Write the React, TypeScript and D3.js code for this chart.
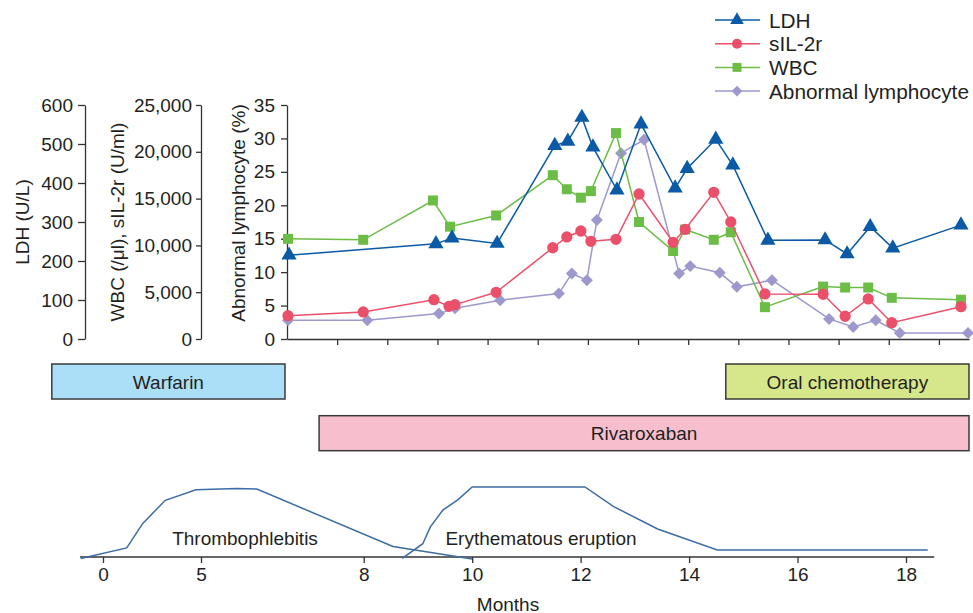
import React, { useRef, useEffect } from 'react'
import * as d3 from 'd3'

// upper panel x = visit index units (one unlabeled tick per unit)
const ldhT = [0.04, 2.97, 3.29, 4.19, 5.34, 5.6, 5.88, 6.1, 6.58, 7.06, 7.74, 7.98, 8.55, 8.89, 9.59, 10.73, 11.17, 11.63, 12.08, 13.44]
const ldhVal = [215, 244, 259, 245, 496, 507, 568, 492, 382, 551, 387, 437, 512, 446, 253, 254, 218, 288, 233, 292]

const sil2rT = [0.02, 1.52, 2.93, 3.23, 3.35, 4.17, 5.3, 5.58, 5.86, 6.06, 6.56, 7.02, 7.7, 7.94, 8.51, 8.85, 9.53, 10.69, 11.13, 11.59, 12.06, 13.44]
const sil2rVal = [2490, 2890, 4200, 3490, 3670, 4990, 9750, 10900, 11540, 10440, 10650, 15490, 10330, 11720, 15670, 12500, 4810, 4780, 2430, 4280, 1740, 3450]

const wbcT = [0.02, 1.52, 2.91, 3.25, 4.17, 5.3, 5.58, 5.86, 6.06, 6.56, 7.02, 7.7, 7.94, 8.51, 8.85, 9.53, 10.69, 11.13, 11.59, 12.06, 13.44]
const wbcVal = [10700, 10600, 14800, 12000, 13200, 17500, 16000, 15100, 15800, 22000, 12500, 9400, 11700, 10600, 11400, 3400, 5600, 5500, 5500, 4400, 4200]

const lymT = [0.02, 1.6, 3.03, 3.35, 4.25, 5.42, 5.68, 5.98, 6.18, 6.66, 7.12, 7.82, 8.04, 8.63, 8.97, 9.67, 10.81, 11.29, 11.74, 12.22, 13.58]
const lymVal = [2.8, 2.8, 3.8, 4.6, 5.8, 6.8, 9.8, 8.8, 17.8, 27.8, 29.8, 9.8, 10.9, 9.9, 7.8, 8.8, 3.0, 1.8, 2.8, 0.9, 0.9]

const ldhTicks = [0, 100, 200, 300, 400, 500, 600]
const wbcTicks = [0, 5000, 10000, 15000, 20000, 25000]
const lymTicks = [0, 5, 10, 15, 20, 25, 30, 35]

// treatments (same visit units as upper panel)
const drugNames = ['Warfarin', 'Rivaroxaban', 'Oral chemotherapy']
const drugStart = [-4.69, 0.64, 8.75]
const drugEnd = [-0.04, 13.6, 13.6]
const drugLane = [0, 1, 0]

// symptom course, x in months, y = relative severity
const thromboM = [-1.14, 1.21, 2.03, 3.18, 4.74, 5.66, 6.03, 8.54, 10.0]
const thromboS = [-0.02, 0.13, 0.48, 0.81, 0.96, 0.98, 0.97, 0.15, -0.03]
const eruptionM = [8.71, 9.09, 9.23, 9.46, 9.74, 10.0, 12.08, 12.61, 13.42, 14.52, 18.4]
const eruptionS = [-0.02, 0.19, 0.43, 0.67, 0.82, 1.0, 1.0, 0.72, 0.4, 0.1, 0.1]
const monthTicks = [0, 5, 8, 10, 12, 14, 16, 18]

const FONT = "'Liberation Sans', Arial, Helvetica, sans-serif"
const INK = '#231f20'

const Chart = () => {
  const svgRef = useRef<SVGSVGElement>(null)

  useEffect(() => {
    const svg = d3.select(svgRef.current)
    svg.selectAll('*').remove()

    const yTop = 105, yBot = 339
    const xTop = d3.scaleLinear().domain([0, 13.6]).range([287, 969])
    const yLdh = d3.scaleLinear().domain([0, 600]).range([yBot, yTop])
    const yWbc = d3.scaleLinear().domain([0, 25000]).range([yBot, yTop])
    const yLym = d3.scaleLinear().domain([0, 35]).range([yBot, yTop])

    const styleAxis = (g) => {
      g.attr('font-family', FONT).attr('font-size', 19)
      g.selectAll('path, line').attr('stroke', '#333').attr('stroke-width', 1.3)
      g.selectAll('text').attr('fill', INK)
    }

    // left axes
    svg.append('g').attr('transform', 'translate(85,0)')
      .call(d3.axisLeft(yLdh).tickValues(ldhTicks).tickSize(7).tickPadding(5).tickSizeOuter(0))
      .call(styleAxis)
    svg.append('g').attr('transform', 'translate(201,0)')
      .call(d3.axisLeft(yWbc).tickValues(wbcTicks).tickFormat(d3.format(',')).tickSize(5).tickPadding(4).tickSizeOuter(0))
      .call(styleAxis)
    svg.append('g').attr('transform', 'translate(287,0)')
      .call(d3.axisLeft(yLym).tickValues(lymTicks).tickSize(6).tickPadding(6).tickSizeOuter(0))
      .call(styleAxis)
    svg.append('g').attr('transform', `translate(0,${yBot})`)
      .call(d3.axisBottom(xTop).tickValues(d3.range(1, 14)).tickFormat(() => '').tickSize(6).tickSizeOuter(0))
      .call(styleAxis)

    const axisTitle = (x, y, txt) => svg.append('text')
      .attr('transform', `translate(${x},${y}) rotate(-90)`)
      .attr('text-anchor', 'middle').attr('dominant-baseline', 'central')
      .attr('font-family', FONT).attr('font-size', 19).attr('fill', INK)
      .text(txt)
    axisTitle(22, 222, 'LDH (U/L)')
    axisTitle(117, 222, 'WBC (/\u03bcl), sIL-2r (U/ml)')
    axisTitle(238, 213, 'Abnormal lymphocyte (%)')

    const series = [
      { name: 'LDH', t: ldhT, v: ldhVal, y: yLdh, color: '#0a5aa6', sym: d3.symbolTriangle, size: 100, rot: 0 },
      { name: 'sIL-2r', t: sil2rT, v: sil2rVal, y: yWbc, color: '#eb506b', sym: d3.symbolCircle, size: 100, rot: 0 },
      { name: 'WBC', t: wbcT, v: wbcVal, y: yWbc, color: '#6bbd46', sym: d3.symbolSquare, size: 100, rot: 0 },
      { name: 'Abnormal lymphocyte', t: lymT, v: lymVal, y: yLym, color: '#9d99cd', sym: d3.symbolSquare, size: 72, rot: 45 },
    ]

    // draw back to front: lymphocyte, WBC, sIL-2r, LDH
    ;[...series].reverse().forEach(s => {
      const pts = s.t.map((t, i) => [xTop(t), s.y(s.v[i])])
      svg.append('path')
        .attr('d', d3.line()(pts))
        .attr('fill', 'none').attr('stroke', s.color).attr('stroke-width', 1.5)
      svg.append('g').selectAll('path').data(pts).join('path')
        .attr('transform', d => `translate(${d[0]},${d[1]}) rotate(${s.rot})`)
        .attr('d', d3.symbol(s.sym, s.size)())
        .attr('fill', s.color)
    })

    // legend
    series.forEach((s, i) => {
      const y = 20 + i * 23.7
      svg.append('line').attr('x1', 715).attr('x2', 760).attr('y1', y).attr('y2', y)
        .attr('stroke', s.color).attr('stroke-width', 1.5)
      svg.append('path').attr('transform', `translate(737,${y}) rotate(${s.rot})`)
        .attr('d', d3.symbol(s.sym, s.size * 0.8)()).attr('fill', s.color)
      svg.append('text').attr('x', 769).attr('y', y).attr('dominant-baseline', 'central')
        .attr('font-family', FONT).attr('font-size', 20.8).attr('fill', INK).text(s.name)
    })

    // treatment bars
    const drugFill = ['#aadff7', '#f7bfce', '#d6e68a']
    drugNames.forEach((name, i) => {
      const x0 = xTop(drugStart[i]), x1 = xTop(drugEnd[i])
      const y0 = 364 + drugLane[i] * 51.7
      svg.append('rect').attr('x', x0).attr('y', y0).attr('width', x1 - x0).attr('height', 35)
        .attr('fill', drugFill[i]).attr('stroke', '#3a3a3a').attr('stroke-width', 1.5)
      svg.append('text').attr('x', (x0 + x1) / 2).attr('y', y0 + 18)
        .attr('text-anchor', 'middle').attr('dominant-baseline', 'central')
        .attr('font-family', FONT).attr('font-size', 19).attr('fill', INK).text(name)
    })

    // symptom panel
    const xMonth = d3.scaleLinear().domain([0, 5, 18]).range([103, 201, 906])
    const ySev = d3.scaleLinear().domain([0, 1]).range([557, 487])
    const baseY = 557

    svg.append('line').attr('x1', xMonth(-1.17)).attr('x2', xMonth(18.52))
      .attr('y1', baseY).attr('y2', baseY).attr('stroke', '#333').attr('stroke-width', 1.6)
    svg.append('g').attr('transform', `translate(0,${baseY})`)
      .call(d3.axisBottom(xMonth).tickValues(monthTicks).tickFormat(d3.format('d')).tickSize(6).tickPadding(5).tickSizeOuter(0))
      .call(styleAxis)
      .call(g => g.select('.domain').remove())

    svg.append('text').attr('x', 508).attr('y', 604).attr('text-anchor', 'middle')
      .attr('dominant-baseline', 'central').attr('font-family', FONT).attr('font-size', 19)
      .attr('fill', INK).text('Months')

    const course = d3.line()
    ;[[thromboM, thromboS], [eruptionM, eruptionS]].forEach(([m, s]) => {
      svg.append('path')
        .attr('d', course(m.map((d, i) => [xMonth(d), ySev(s[i])])))
        .attr('fill', 'none').attr('stroke', '#3d6ca3').attr('stroke-width', 1.5)
    })
    const courseLabel = (x, txt) => svg.append('text').attr('x', x).attr('y', 538)
      .attr('text-anchor', 'middle').attr('dominant-baseline', 'central')
      .attr('font-family', FONT).attr('font-size', 19).attr('fill', INK).text(txt)
    courseLabel(245, 'Thrombophlebitis')
    courseLabel(541, 'Erythematous eruption')
  }, [])

  return (
    <svg ref={svgRef} width={973} height={613}
      style={{ position: 'absolute', left: 0, top: 0, background: '#fff' }} />
  )
}

export default function App() {
  return <Chart />
}
